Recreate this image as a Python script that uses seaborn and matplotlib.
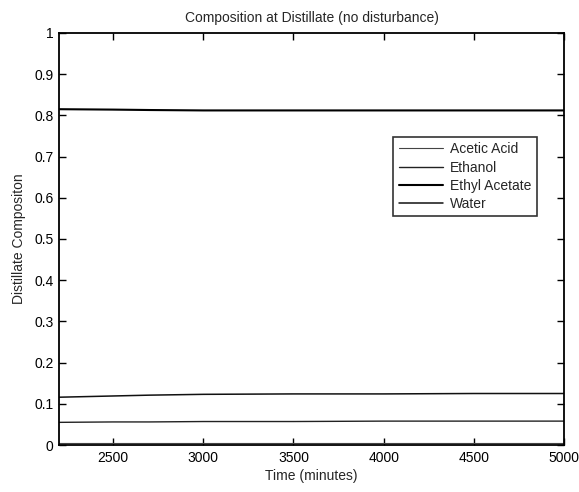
import matplotlib
matplotlib.use("Agg")
import matplotlib.pyplot as plt
import seaborn as sns
import pandas as pd

# Data
time_min = [2200, 2500, 2700, 3000, 3500, 4000, 4500, 5000]
acetic_acid = [0.005, 0.005, 0.005, 0.005, 0.005, 0.005, 0.005, 0.005]
ethanol = [0.055, 0.056, 0.056, 0.057, 0.057, 0.058, 0.058, 0.058]
ethyl_acetate = [0.815, 0.814, 0.813, 0.812, 0.812, 0.812, 0.812, 0.812]
water = [0.116, 0.119, 0.121, 0.123, 0.124, 0.124, 0.125, 0.125]
series_names = ["Acetic Acid", "Ethanol", "Ethyl Acetate", "Water"]

df = pd.DataFrame({
    "Time": time_min * 4,
    "Composition": acetic_acid + ethanol + ethyl_acetate + water,
    "Component": sum([[n] * len(time_min) for n in series_names], []),
})

sns.set_theme(style="white")
plt.rcParams["font.family"] = ["Liberation Sans", "DejaVu Sans"]

fig = plt.figure(figsize=(5.79, 4.92), dpi=100)
ax = fig.add_axes([0.102, 0.0955, 0.872, 0.8375])

widths = {"Acetic Acid": 0.8, "Ethanol": 1.0, "Ethyl Acetate": 1.5, "Water": 1.1}
colors = {"Acetic Acid": "#444444", "Ethanol": "#222222", "Ethyl Acetate": "#000000", "Water": "#111111"}
for name in series_names:
    sub = df[df["Component"] == name]
    sns.lineplot(data=sub, x="Time", y="Composition", ax=ax, color=colors[name],
                 linewidth=widths[name], label=name)

ax.set_xlim(2200, 5000)
ax.set_ylim(0, 1)
ax.set_xticks([2500, 3000, 3500, 4000, 4500, 5000])
ax.set_yticks([0, 0.1, 0.2, 0.3, 0.4, 0.5, 0.6, 0.7, 0.8, 0.9, 1])
ax.set_yticklabels(["0", "0.1", "0.2", "0.3", "0.4", "0.5", "0.6", "0.7", "0.8", "0.9", "1"])
ax.tick_params(direction="in", length=5, width=1, top=True, right=True,
               bottom=True, left=True, labelsize=10, colors="black", pad=4)
for s in ax.spines.values():
    s.set_color("black")
    s.set_linewidth(1.3)

ax.set_xlabel("Time (minutes)", fontsize=10, labelpad=3)
ax.set_ylabel("Distillate Compositon", fontsize=10, labelpad=6)
ax.set_title("Composition at Distillate (no disturbance)", fontsize=10, pad=8)

leg = ax.legend(loc="upper right", bbox_to_anchor=(0.947, 0.748), fontsize=10,
                frameon=True, fancybox=False, edgecolor="black", handlelength=3.2,
                borderpad=0.4, labelspacing=0.3, handletextpad=0.5, borderaxespad=0)
leg.get_frame().set_linewidth(1.2)

fig.savefig("out.png", dpi=100)
